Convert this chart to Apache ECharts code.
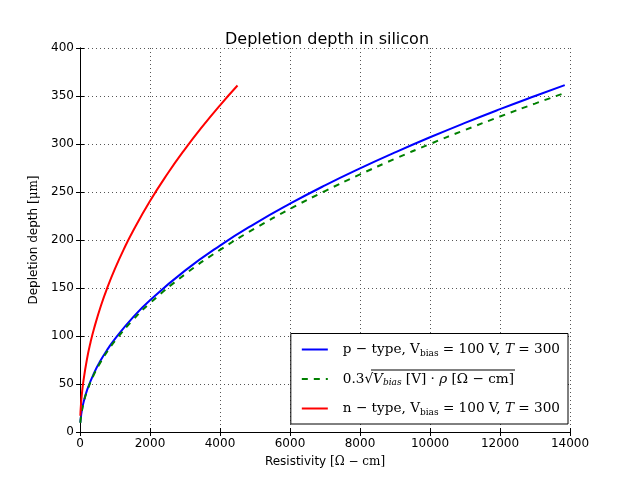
<!DOCTYPE html>
<html>
<head>
<meta charset="utf-8">
<script src="https://cdn.jsdelivr.net/npm/echarts@6/dist/echarts.min.js"></script>
<style>
  html, body { margin: 0; padding: 0; background: #fff; }
  #chart { width: 640px; height: 480px; }
</style>
</head>
<body>
<div id="chart"></div>
<script>
// values
var pRes    = [10, 25, 50, 100, 200, 400, 600, 800, 1000, 1500, 2000, 3000, 4000, 5000, 6000, 7000, 8000, 9000, 10000, 11000, 12000, 13000, 13850];
var pDepth  = [9.7, 15.4, 21.7, 30.7, 43.4, 61.4, 75.2, 86.8, 97.1, 118.9, 137.3, 168.1, 194.2, 217.1, 237.8, 256.9, 274.6, 291.2, 307.0, 322.0, 336.3, 350.0, 361.3];
var fitDepth = [9.5, 15.0, 21.2, 30.0, 42.4, 60.0, 73.5, 84.9, 94.9, 116.2, 134.2, 164.3, 189.7, 212.1, 232.4, 251.0, 268.3, 284.6, 300.0, 314.6, 328.6, 342.1, 353.1];
var nRes    = [10, 25, 50, 100, 200, 300, 400, 600, 800, 1000, 1250, 1500, 2000, 2500, 3000, 3500, 4000, 4500];
var nDepth  = [17.0, 26.9, 38.0, 53.8, 76.1, 93.2, 107.6, 131.8, 152.2, 170.1, 190.2, 208.4, 240.6, 269.0, 294.7, 318.3, 340.3, 360.9];
var seriesNames = ['p-type', 'fit', 'n-type'];

function pairs(xs, ys) {
  return xs.map(function (x, i) { return [x, ys[i]]; });
}

var myChart = echarts.init(document.getElementById('chart'), null, { renderer: 'canvas' });

var sans = 'DejaVu Sans';
var serif = 'DejaVu Serif';

var tickStyle = { show: true, inside: true, length: 4, lineStyle: { color: '#000', width: 1 } };
var lineStyleAxis = { show: true, lineStyle: { color: '#000', width: 1 } };
var gridLine = { show: true, lineStyle: { color: '#555', width: 1, type: [1, 3] } };

var legendText = {
  'p-type': '{n|p − type, V}{s|bias}{n| = 100 V, }{i|T}{n| = 300}',
  'fit': '{n|0.3√}{i|V}{si|bias}{n| [V] · }{i|ρ}{n| [Ω − cm]}',
  'n-type': '{n|n − type, V}{s|bias}{n| = 100 V, }{i|T}{n| = 300}'
};

var option = {
  animation: false,
  title: {
    text: 'Depletion depth in silicon',
    left: 322, top: 27, textAlign: 'center',
    textStyle: { fontFamily: sans, fontSize: 16, fontWeight: 'normal', color: '#000' }
  },
  grid: { left: 80, right: 70, top: 48, bottom: 48 },
  legend: {
    orient: 'vertical',
    right: 72, bottom: 56,
    data: seriesNames,
    itemWidth: 26, itemHeight: 10, itemGap: 14,
    padding: [9, 8, 7, 10],
    borderColor: '#000', borderWidth: 1, backgroundColor: '#fff',
    selectedMode: false,
    itemStyle: { opacity: 0, borderWidth: 0 },
    formatter: function (name) { return legendText[name]; },
    textStyle: {
      rich: {
        n: { fontFamily: serif, fontSize: 13.6, color: '#000' },
        s: { fontFamily: serif, fontSize: 9, color: '#000', padding: [8, 0, 0, 0] },
        i: { fontFamily: serif, fontSize: 13.6, fontStyle: 'italic', color: '#000' },
        si: { fontFamily: serif, fontSize: 9, fontStyle: 'italic', color: '#000', padding: [8, 0, 0, 0] }
      },
      padding: [0, 0, 0, 10]
    }
  },
  graphic: [{
    // overline of the square root in the legend
    type: 'line', z: 100,
    shape: { x1: 371, y1: 370, x2: 515, y2: 370 },
    style: { stroke: '#000', lineWidth: 1 }
  }],
  xAxis: [{
    type: 'value', min: 0, max: 14000, interval: 2000,
    name: '{a|Resistivity }{b|[Ω − cm]}',
    nameLocation: 'middle', nameGap: 24,
    nameTextStyle: {
      rich: {
        a: { fontFamily: sans, fontSize: 12, color: '#000' },
        b: { fontFamily: serif, fontSize: 12, color: '#000' }
      }
    },
    axisLine: lineStyleAxis, axisTick: tickStyle, splitLine: gridLine,
    axisLabel: { fontFamily: sans, fontSize: 12, color: '#000', margin: 6, formatter: function (v) { return String(v); } }
  }, {
    type: 'value', position: 'top', min: 0, max: 14000, interval: 2000,
    axisLine: lineStyleAxis, axisTick: tickStyle, splitLine: { show: false },
    axisLabel: { show: false }
  }],
  yAxis: [{
    type: 'value', min: 0, max: 400, interval: 50,
    name: '{a|Depletion depth }{b|[μm]}',
    nameLocation: 'middle', nameGap: 40,
    nameTextStyle: {
      rich: {
        a: { fontFamily: sans, fontSize: 12, color: '#000' },
        b: { fontFamily: serif, fontSize: 12, color: '#000' }
      }
    },
    axisLine: lineStyleAxis, axisTick: tickStyle, splitLine: gridLine,
    axisLabel: { fontFamily: sans, fontSize: 12, color: '#000', margin: 6 }
  }, {
    type: 'value', position: 'right', min: 0, max: 400, interval: 50,
    axisLine: lineStyleAxis, axisTick: tickStyle, splitLine: { show: false },
    axisLabel: { show: false }
  }],
  series: [
    {
      name: 'p-type', type: 'line', smooth: true, symbol: 'none',
      data: pairs(pRes, pDepth), color: '#0000ff',
      lineStyle: { width: 2, color: '#0000ff' }
    },
    {
      name: 'fit', type: 'line', smooth: true, symbol: 'none',
      data: pairs(pRes, fitDepth), color: '#008000',
      lineStyle: { width: 2, color: '#008000', type: [6, 6] }
    },
    {
      name: 'n-type', type: 'line', smooth: true, symbol: 'none',
      data: pairs(nRes, nDepth), color: '#ff0000',
      lineStyle: { width: 2, color: '#ff0000' }
    }
  ]
};

myChart.setOption(option);
</script>
</body>
</html>
